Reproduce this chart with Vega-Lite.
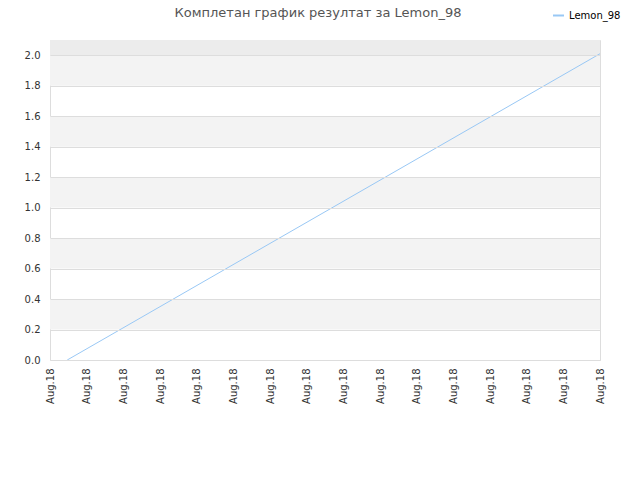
{
  "$schema": "https://vega.github.io/schema/vega-lite/v6.json",
  "width": 550,
  "height": 320,
  "autosize": "none",
  "padding": {"left": 50, "top": 40, "right": 40, "bottom": 120},
  "background": "white",
  "title": {
    "text": "Комплетан график резултат за Lemon_98",
    "font": "DejaVu Sans",
    "fontSize": 13,
    "fontWeight": "normal",
    "color": "#555555",
    "anchor": "middle",
    "dx": -7,
    "offset": -11
  },
  "config": {
    "view": {"stroke": "#dddddd", "strokeWidth": 1},
    "axis": {
      "labelFont": "DejaVu Sans",
      "labelFontSize": 10,
      "labelColor": "#333333",
      "labelOverlap": false,
      "domain": false,
      "ticks": false,
      "title": null
    }
  },
  "datasets": {
    "bands": [
      {"lo": 0.2, "hi": 0.4},
      {"lo": 0.6, "hi": 0.8},
      {"lo": 1.0, "hi": 1.2},
      {"lo": 1.4, "hi": 1.6},
      {"lo": 1.8, "hi": 2.0}
    ],
    "topband": [
      {"lo": 2.0, "hi": 2.1}
    ],
    "scores": [
      {"step": 0.47, "score": 0.0, "series": "Lemon_98"},
      {"step": 15, "score": 2.01, "series": "Lemon_98"}
    ]
  },
  "layer": [
    {
      "data": {"name": "bands"},
      "mark": {"type": "rect", "x": 0, "x2": 550, "color": "#f3f3f3"},
      "encoding": {
        "y": {
          "field": "lo",
          "type": "quantitative",
          "scale": {"domain": [0, 2.1], "nice": false},
          "axis": {
            "values": [0, 0.2, 0.4, 0.6, 0.8, 1.0, 1.2, 1.4, 1.6, 1.8, 2.0],
            "tickCount": 11,
            "format": ".1f",
            "labelOverlap": false,
            "grid": true,
            "gridColor": "#dddddd",
            "zindex": 1,
            "labelPadding": 10
          }
        },
        "y2": {"field": "hi"}
      }
    },
    {
      "data": {"name": "topband"},
      "mark": {"type": "rect", "x": 0, "x2": 550, "color": "#ececec"},
      "encoding": {
        "y": {"field": "lo", "type": "quantitative"},
        "y2": {"field": "hi"}
      }
    },
    {
      "data": {"name": "scores"},
      "mark": {"type": "line", "strokeWidth": 1, "interpolate": "linear"},
      "encoding": {
        "x": {
          "field": "step",
          "type": "quantitative",
          "scale": {"domain": [0, 15], "nice": false},
          "axis": {
            "values": [0, 1, 2, 3, 4, 5, 6, 7, 8, 9, 10, 11, 12, 13, 14, 15],
            "labelExpr": "'Aug.18'",
            "labelAngle": -90,
            "labelAlign": "right",
            "labelBaseline": "middle",
            "labelPadding": 8,
            "grid": false
          }
        },
        "y": {"field": "score", "type": "quantitative"},
        "color": {
          "field": "series",
          "type": "nominal",
          "scale": {"range": ["#99c8f5"]},
          "legend": {
            "title": null,
            "orient": "none",
            "legendX": 502,
            "legendY": -31,
            "symbolType": "stroke",
            "symbolSize": 120,
            "symbolStrokeWidth": 2,
            "labelFont": "DejaVu Sans",
            "labelFontSize": 10,
            "labelColor": "#000000"
          }
        }
      }
    }
  ]
}
